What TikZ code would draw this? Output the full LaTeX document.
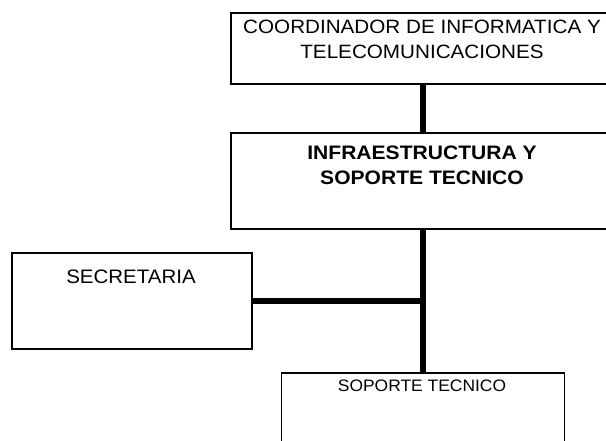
\documentclass[tikz,border=0pt]{standalone}
\usepackage{fontspec}
\setmainfont{Liberation Sans}
\newfontfamily\wideA[FakeStretch=1.07]{Liberation Sans}
\newfontfamily\wideB[FakeStretch=1.08]{Liberation Sans}
\newfontfamily\wideC[FakeStretch=1.05]{Liberation Sans}
\begin{document}
\begin{tikzpicture}[x=1pt,y=-1pt,
  box/.style={draw=black, line width=1.6pt, rectangle, inner sep=0pt, fill=white},
  conn/.style={line width=5.5pt, draw=black},
  lbl/.style={inner sep=0pt, align=center, anchor=north, text=black}]
\useasboundingbox (0,0) rectangle (606,440);
\clip (0,0) rectangle (606,440);
\fill[white] (0,0) rectangle (606,440);
\node[box, minimum width=384pt, minimum height=71pt] (coord) at (423,48.5) {};
\node[box, minimum width=384pt, minimum height=96pt] (infra) at (423,181) {};
\node[box, minimum width=240pt, minimum height=96pt] (secr) at (132,301) {};
\node[box, minimum width=283pt, minimum height=96pt] (sop) at (423,421) {};
\draw[conn] (coord.south) -- (infra.north);
\draw[conn] (infra.south) -- (sop.north);
\draw[conn] (secr.east) -- (secr.east -| infra.south);
\node[lbl, font=\wideA\fontsize{19.3}{24.5}\selectfont] (coordtxt) at (422,20)
  {COORDINADOR DE INFORMATICA Y\\TELECOMUNICACIONES};
\node[lbl, font=\wideB\bfseries\fontsize{19.5}{24.5}\selectfont] (infratxt) at (422,146)
  {INFRAESTRUCTURA Y\\SOPORTE TECNICO};
\node[lbl, font=\wideC\fontsize{19.5}{24}\selectfont] (secrtxt) at (131,269.5) {SECRETARIA};
\node[lbl, font=\wideC\fontsize{16.6}{20}\selectfont] (soptxt) at (422,379.5) {SOPORTE TECNICO};
\end{tikzpicture}
\end{document}
